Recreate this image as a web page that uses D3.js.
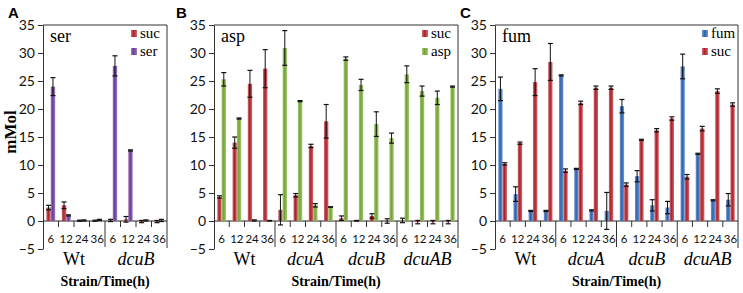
<!DOCTYPE html>
<html>
<head>
<meta charset="utf-8">
<script src="https://cdn.jsdelivr.net/npm/d3@7"></script>
<style>
  body { margin: 0; background: #fff; }
  svg { display: block; }
</style>
</head>
<body>
<div id="vis"></div>
<script>
// --- data (mMol) ---
const timesH = ["6", "12", "24", "36"];
const strainsA = ["Wt", "dcuB"];
const strainsBC = ["Wt", "dcuA", "dcuB", "dcuAB"];
const yTicks = [-5, 0, 5, 10, 15, 20, 25, 30, 35];

// panel A: ser
const serSucMean = [2.4, 2.8, 0.05, 0.05, 0.1, 0.3, -0.1, -0.1];
const serSucErr = [0.4, 0.6, 0.1, 0.1, 0.2, 0.5, 0.2, 0.2];
const serSerMean = [24.0, 1.0, 0.1, 0.2, 27.7, 12.6, 0.1, 0.1];
const serSerErr = [1.6, 0.1, 0.1, 0.1, 1.8, 0.1, 0.1, 0.2];

// panel B: asp
const aspSucMean = [4.3, 14.0, 24.5, 27.2, 2.0, 4.6, 13.4, 17.8, 0.5, 0.05, 0.9, 0.0, 0.1, -0.2, -0.2, -0.2];
const aspSucErr = [0.2, 1.0, 2.4, 3.4, 2.7, 0.3, 0.3, 3.0, 0.4, 0.05, 0.4, 0.4, 0.4, 0.3, 0.3, 0.3];
const aspAspMean = [25.3, 18.3, 0.1, 0.05, 30.9, 21.4, 2.8, 2.5, 29.0, 24.3, 17.3, 14.8, 26.2, 23.2, 22.0, 24.0];
const aspAspErr = [1.2, 0.1, 0.1, 0.05, 3.1, 0.1, 0.3, 0.05, 0.3, 1.0, 2.2, 0.9, 1.5, 0.9, 1.2, 0.1];

// panel C: fum
const fumFumMean = [23.6, 4.8, 1.8, 1.8, 26.0, 9.3, 1.9, 1.8, 20.5, 8.0, 2.8, 2.4, 27.6, 12.0, 3.7, 3.8];
const fumFumErr = [2.1, 1.3, 0.1, 0.1, 0.1, 0.1, 0.1, 3.3, 1.2, 1.0, 1.0, 1.1, 2.2, 0.1, 0.1, 1.1];
const fumSucMean = [10.2, 13.9, 24.8, 28.4, 9.0, 21.1, 23.8, 23.8, 6.5, 14.5, 16.2, 18.3, 7.9, 16.5, 23.2, 20.8];
const fumSucErr = [0.2, 0.2, 2.4, 3.3, 0.3, 0.3, 0.3, 0.3, 0.3, 0.1, 0.3, 0.3, 0.4, 0.4, 0.4, 0.3];

const colors = { suc: "#b01f28", ser: "#67399a", asp: "#73a630", fum: "#2a62b2" };

const panels = [
  { letter: "A", letterX: 8, x0: 43, x1: 167, title: "ser", strains: strainsA,
    series: [
      { name: "suc", mean: serSucMean, err: serSucErr },
      { name: "ser", mean: serSerMean, err: serSerErr },
    ] },
  { letter: "B", letterX: 176, x0: 214, x1: 458, title: "asp", strains: strainsBC,
    series: [
      { name: "suc", mean: aspSucMean, err: aspSucErr },
      { name: "asp", mean: aspAspMean, err: aspAspErr },
    ] },
  { letter: "C", letterX: 460, x0: 495, x1: 738, title: "fum", strains: strainsBC,
    series: [
      { name: "fum", mean: fumFumMean, err: fumFumErr },
      { name: "suc", mean: fumSucMean, err: fumSucErr },
    ] },
];

const width = 743, height = 293;
const serif = "Liberation Serif, serif";
const sans = "Lato, Open Sans, sans-serif";

const svg = d3.select("#vis").append("svg")
  .attr("width", width).attr("height", height);

// Excel-style shaded bars
const defs = svg.append("defs");
Object.entries(colors).forEach(([k, c]) => {
  const g = defs.append("linearGradient").attr("id", "grad-" + k)
    .attr("x1", 0).attr("x2", 1).attr("y1", 0).attr("y2", 0);
  const light = d3.interpolateRgb(c, "#fff")(0.35);
  g.append("stop").attr("offset", "0%").attr("stop-color", light);
  g.append("stop").attr("offset", "45%").attr("stop-color", c);
  g.append("stop").attr("offset", "100%").attr("stop-color", light);
});

const y = d3.scaleLinear().domain([-5, 35]).range([249, 25]);

panels.forEach((p) => {
  const n = p.strains.length * timesH.length;
  const idx = d3.range(n);
  const x = d3.scaleBand().domain(idx).range([p.x0, p.x1]).paddingInner(0).paddingOuter(0);
  const xs = d3.scaleBand().domain(p.series.map((s) => s.name))
    .range([0, x.bandwidth()]).paddingOuter(0.75).paddingInner(0);

  const g = svg.append("g");

  // panel letter
  g.append("text").attr("x", p.letterX).attr("y", 18)
    .attr("font-family", "Liberation Sans, Arial, sans-serif")
    .attr("font-weight", "bold").attr("font-size", 15).text(p.letter);

  // box: top and right border
  g.append("path")
    .attr("d", `M${p.x0},${y(35)}H${p.x1}V${y(-5) - 1}`)
    .attr("fill", "none").attr("stroke", "#333").attr("stroke-width", 1);

  // y axis
  const ya = g.append("g").attr("transform", `translate(${p.x0},0)`)
    .call(d3.axisLeft(y).tickValues(yTicks).tickSize(5).tickSizeOuter(0).tickPadding(3));
  ya.select(".domain").attr("stroke", "#333");
  ya.selectAll(".tick line").attr("stroke", "#333");
  ya.selectAll(".tick text").attr("font-size", 14).attr("font-family", sans).attr("fill", "#111");

  // zero line
  g.append("line").attr("x1", p.x0).attr("x2", p.x1)
    .attr("y1", y(0)).attr("y2", y(0)).attr("stroke", "#222");

  // category ticks
  g.selectAll(".ctick").data(idx.slice(1)).join("line")
    .attr("x1", (i) => x(i)).attr("x2", (i) => x(i))
    .attr("y1", y(0))
    .attr("y2", (i) => (i % timesH.length === 0 ? y(-5) - 2 : y(0) + 6))
    .attr("stroke", "#333");

  // bars
  const rows = [];
  p.series.forEach((s) => idx.forEach((i) => rows.push({ s: s.name, i, v: s.mean[i], e: s.err[i] })));

  g.selectAll(".bar").data(rows).join("rect")
    .attr("x", (d) => x(d.i) + xs(d.s))
    .attr("width", xs.bandwidth())
    .attr("y", (d) => Math.min(y(d.v), y(0)))
    .attr("height", (d) => Math.max(0.6, Math.abs(y(d.v) - y(0))))
    .attr("fill", (d) => `url(#grad-${d.s})`);

  // error bars
  const eb = g.selectAll(".err").data(rows).join("g")
    .attr("transform", (d) => `translate(${x(d.i) + xs(d.s) + xs.bandwidth() / 2},0)`);
  eb.append("line").attr("y1", (d) => y(d.v + d.e)).attr("y2", (d) => y(d.v - d.e))
    .attr("stroke", "#111").attr("stroke-width", 1);
  eb.append("line").attr("x1", -2.5).attr("x2", 2.5)
    .attr("y1", (d) => y(d.v + d.e)).attr("y2", (d) => y(d.v + d.e))
    .attr("stroke", "#111").attr("stroke-width", 1.2);
  eb.append("line").attr("x1", -2.5).attr("x2", 2.5)
    .attr("y1", (d) => y(d.v - d.e)).attr("y2", (d) => y(d.v - d.e))
    .attr("stroke", "#111").attr("stroke-width", 1.2);

  // time labels
  g.selectAll(".tlab").data(idx).join("text")
    .attr("x", (i) => x(i) + x.bandwidth() / 2).attr("y", 243)
    .attr("text-anchor", "middle")
    .attr("font-family", sans).attr("font-size", 11.5)
    .attr("fill", "#111")
    .text((i) => timesH[i % timesH.length]);

  // strain labels
  g.selectAll(".slab").data(p.strains).join("text")
    .attr("x", (s, k) => (x(k * 4) + x(k * 4 + 3) + x.bandwidth()) / 2)
    .attr("y", 265).attr("text-anchor", "middle")
    .attr("font-family", serif).attr("font-size", 18)
    .attr("font-style", (s) => (s === "Wt" ? "normal" : "italic"))
    .text((s) => s);

  // x title
  g.append("text").attr("x", (p.x0 + p.x1) / 2).attr("y", 286)
    .attr("text-anchor", "middle").attr("font-family", serif)
    .attr("font-weight", "bold").attr("font-size", 14).text("Strain/Time(h)");

  // panel title
  g.append("text").attr("x", p.x0 + 7).attr("y", 42)
    .attr("font-family", serif).attr("font-size", 18).text(p.title);

  // legend
  const lg = g.selectAll(".leg").data(p.series).join("g")
    .attr("transform", (s, k) => `translate(${p.x1 - 36},${30 + k * 18})`);
  lg.append("rect").attr("width", 6).attr("height", 7)
    .attr("fill", (s) => `url(#grad-${s.name})`);
  lg.append("text").attr("x", 9).attr("y", 7.5)
    .attr("font-family", serif).attr("font-size", 15).text((s) => s.name);
});

// y title
svg.append("text")
  .attr("transform", "translate(16,132) rotate(-90)")
  .attr("text-anchor", "middle").attr("font-family", serif)
  .attr("font-weight", "bold").attr("font-size", 17)
  .text("mMol");
</script>
</body>
</html>
